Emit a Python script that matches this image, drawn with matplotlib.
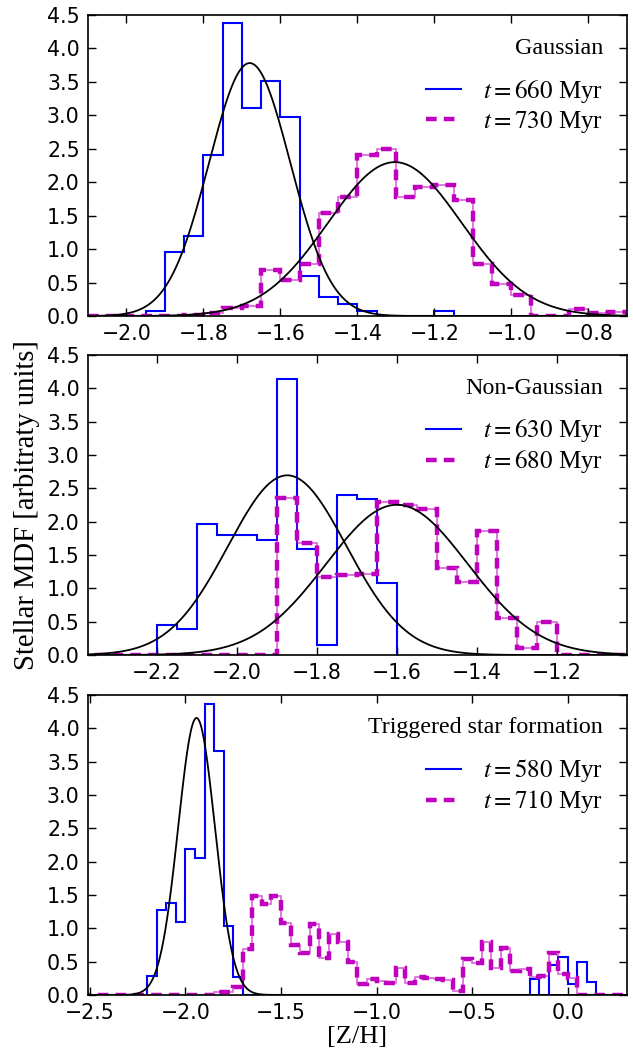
import numpy as np
import matplotlib
matplotlib.use("Agg")
import matplotlib.pyplot as plt
from matplotlib.lines import Line2D

plt.rcParams['font.family'] = ['DejaVu Sans']
plt.rcParams['mathtext.fontset'] = 'stix'

# ---------------- data ----------------
# Panel 1: Gaussian
p1_title = "Gaussian"
p1_labels = ["$t = 660$ Myr", "$t = 730$ Myr"]
p1_blue_start, p1_mag_start, p1_bw = -1.95, -2.10, 0.05
p1_blue = [0.08, 0.95, 1.2, 2.4, 4.38, 3.11, 3.52, 2.98, 0.6, 0.28, 0.18, 0.07,
           0, 0, 0, 0.08]
p1_mag = [0, 0, 0, 0, 0, 0.02, 0.05, 0.125, 0.15, 0.695, 0.535, 0.775, 1.545,
          1.775, 2.4, 2.5, 1.775, 1.925, 1.965, 1.735, 0.775, 0.475, 0.31, 0, 0,
          0.1, 0.04, 0.06]
p1_fit_blue = (-1.68, 0.1055)
p1_fit_mag = (-1.303, 0.1734)
p1_xlim = (-2.1, -0.7)
p1_xticks = [-2.0, -1.8, -1.6, -1.4, -1.2, -1.0, -0.8]

# Panel 2: Non-Gaussian
p2_title = "Non-Gaussian"
p2_labels = ["$t = 630$ Myr", "$t = 680$ Myr"]
p2_blue_start, p2_mag_start, p2_bw = -2.20, -2.40, 0.05
p2_blue = [0.45, 0.385, 1.965, 1.795, 1.795, 1.725, 4.145, 1.59, 0.15, 2.4,
           2.335, 1.085]
p2_mag = [0, 0, 0, 0, 0, 0, 0, 0, 0, 0, 2.35, 1.675, 1.175, 1.2, 1.21, 2.3,
          2.25, 2.185, 1.31, 1.1, 1.86, 0.56, 0.1, 0.5, 0, 0, 0, 0]
p2_fit_blue = (-1.874, 0.148)
p2_fit_mag = (-1.60, 0.177)
p2_xlim = (-2.372, -1.025)
p2_xticks = [-2.2, -2.0, -1.8, -1.6, -1.4, -1.2]

# Panel 3: Triggered star formation
p3_title = "Triggered star formation"
p3_labels = ["$t = 580$ Myr", "$t = 710$ Myr"]
p3_blue_start, p3_mag_start, p3_bw = -2.20, -2.55, 0.05
p3_blue = [0.29, 1.275, 1.385, 1.09, 2.185, 2.05, 4.365, 3.66, 1.04, 0.265,
           0, 0, 0, 0, 0, 0, 0, 0, 0, 0, 0, 0, 0, 0, 0, 0, 0, 0, 0, 0,
           0, 0, 0, 0, 0, 0, 0, 0, 0, 0,
           0.24, 0, 0.45, 0.575, 0.165, 0.5, 0.19]
p3_mag = [0, 0, 0, 0, 0, 0, 0, 0, 0, 0, 0, 0, 0, 0,
          0.04, 0.05, 0.12, 0.69, 1.49, 1.36, 1.49, 1.085, 0.75, 0.635, 1.06,
          0.56, 0.915, 0.79, 0.5, 0.16, 0.235, 0.215, 0.175, 0.4, 0.175, 0.265,
          0.25, 0.24, 0.225, 0.065, 0.54, 0.475, 0.8, 0.4, 0.7, 0.365, 0.385,
          0.265, 0.29, 0.635, 0.315, 0.255, 0, 0, 0, 0, 0]
p3_fit_blue = (-1.942, 0.096)
p3_fit_mag = None
p3_xlim = (-2.51, 0.31)
p3_xticks = [-2.5, -2.0, -1.5, -1.0, -0.5, 0.0]

yticks = [0.0, 0.5, 1.0, 1.5, 2.0, 2.5, 3.0, 3.5, 4.0, 4.5]
ylim = (0, 4.5)

# ---------------- drawing ----------------
SERIF = 'Liberation Serif'
BLUE = '#0000ff'
MAG = '#bf00bf'
DASH = (0, (2.4, 1.6))

fig = plt.figure(figsize=(6.33, 10.57), dpi=100)
positions = [(0.139, 0.701, 0.8515, 0.2848),
             (0.139, 0.3803, 0.8515, 0.2838),
             (0.139, 0.0587, 0.8515, 0.2838)]

panels = [
    (p1_title, p1_labels, p1_blue_start, p1_blue, p1_mag_start, p1_mag, p1_bw,
     p1_fit_blue, p1_fit_mag, p1_xlim, p1_xticks),
    (p2_title, p2_labels, p2_blue_start, p2_blue, p2_mag_start, p2_mag, p2_bw,
     p2_fit_blue, p2_fit_mag, p2_xlim, p2_xticks),
    (p3_title, p3_labels, p3_blue_start, p3_blue, p3_mag_start, p3_mag, p3_bw,
     p3_fit_blue, p3_fit_mag, p3_xlim, p3_xticks),
]

axes = []
for pos, (title, labels, bs, bv, ms, mv, bw, fb, fm, xlim, xticks) in zip(positions, panels):
    ax = fig.add_axes(pos)
    axes.append(ax)
    bedges = bs + bw * np.arange(len(bv) + 1)
    medges = ms + bw * np.arange(len(mv) + 1)
    ax.stairs(bv, bedges, color=BLUE, lw=1.5, baseline=0)
    ax.stairs(mv, medges, color=MAG, lw=1.2, alpha=0.6, baseline=0)
    ax.stairs(mv, medges, color=MAG, lw=3.2, linestyle=DASH, baseline=0)
    xs = np.linspace(xlim[0], xlim[1], 600)
    for fit in (fb, fm):
        if fit is not None:
            mu, sig = fit
            ax.plot(xs, np.exp(-0.5 * ((xs - mu) / sig) ** 2) / (np.sqrt(2 * np.pi) * sig),
                    color='k', lw=1.3)
    ax.set_xlim(*xlim)
    ax.set_ylim(*ylim)
    ax.set_xticks(xticks)
    ax.set_yticks(yticks)
    ax.set_xticklabels([f"{t:.1f}".replace('-', '\u2212') for t in xticks])
    ax.set_yticklabels([f"{t:.1f}" for t in yticks])
    ax.tick_params(direction='in', top=True, right=True, length=6, width=1,
                   labelsize=14.8, pad=6)
    for s in ax.spines.values():
        s.set_linewidth(1.2)
    ax.text(0.9555, 0.89, title, transform=ax.transAxes, ha='right', va='center',
            family=SERIF, fontsize=17.3)
    handles = [Line2D([], [], color=BLUE, lw=1.5),
               Line2D([], [], color=MAG, lw=3.2, linestyle=DASH)]
    ax.legend(handles, labels, loc='upper right', frameon=False,
              bbox_to_anchor=(0.9555, 0.792),
              prop={'family': SERIF, 'size': 18},
              handlelength=1.4, handletextpad=0.9, labelspacing=0.16,
              borderaxespad=0, borderpad=0)

axes[1].set_ylabel("Stellar MDF [arbitraty units]", family=SERIF, fontsize=20.6,
                   labelpad=5)
axes[2].set_xlabel("[Z/H]", family=SERIF, fontsize=19, labelpad=2)

fig.savefig("out.png", dpi=100, facecolor='white')
